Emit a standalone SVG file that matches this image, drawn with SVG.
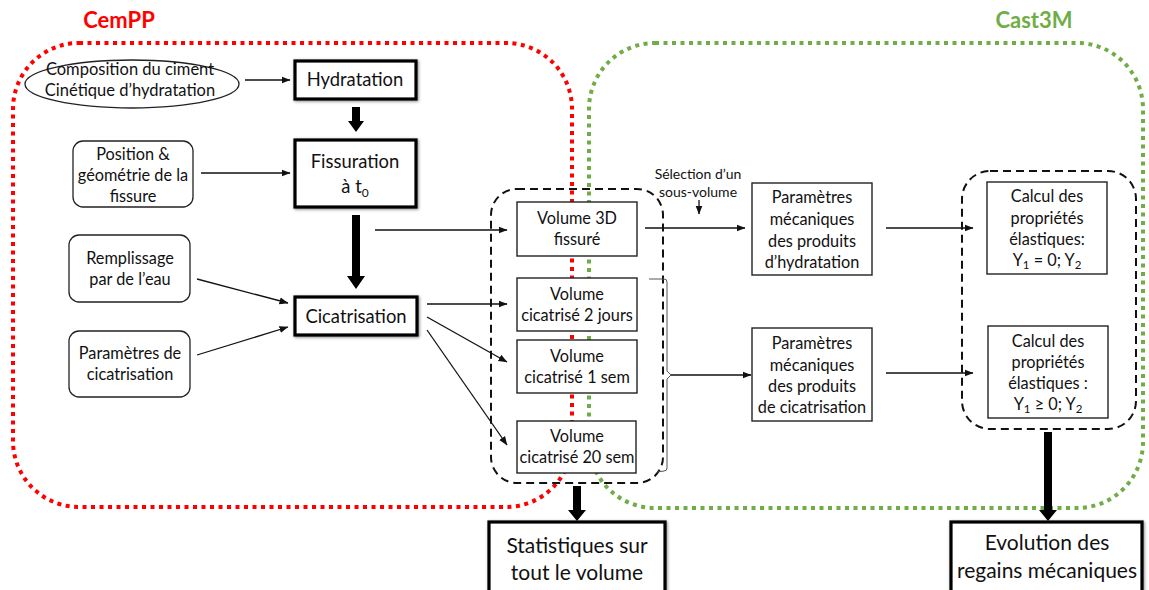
<svg xmlns="http://www.w3.org/2000/svg" width="1149" height="590" viewBox="0 0 1149 590">
<defs>
<style>
text{font-family:Lato,"Liberation Sans",sans-serif;fill:#111;text-anchor:middle}
.t15{font-size:16.3px}
.t16{font-size:16.5px}
.t17{font-size:18.4px}
.t20{font-size:21px}
.sm{font-size:14px}
.title{font-size:22px;font-weight:bold}
.box{fill:#fff;stroke:#222;stroke-width:1.4}
.rbox{fill:#fff;stroke:#222;stroke-width:1.3}
.thick{fill:#fff;stroke:#000;stroke-width:3.2;filter:url(#sh)}
.dash{fill:none;stroke:#111;stroke-width:2;stroke-dasharray:8 5}
.ln{fill:none;stroke:#111;stroke-width:1.3}
.big{fill:#000}
</style>
<filter id="sh" x="-20%" y="-20%" width="140%" height="140%">
<feDropShadow dx="1" dy="1" stdDeviation="1.5" flood-color="#000" flood-opacity="0.45"/>
</filter>
<marker id="ah" markerWidth="9" markerHeight="8" refX="8.5" refY="4" orient="auto" markerUnits="userSpaceOnUse">
<path d="M0,0.5 L9,4 L0,7.5 Z" fill="#111"/>
</marker>
</defs>
<rect width="1149" height="590" fill="#fff"/>

<g id="regions">
<rect x="13" y="43" width="559" height="464" rx="66" fill="none" stroke="#FF0000" stroke-width="4" stroke-dasharray="4 4.5"/>
<rect x="589" y="43" width="554" height="465" rx="66" fill="none" stroke="#70AD47" stroke-width="4" stroke-dasharray="4 4.5"/>
<text x="119" y="28" class="title" style="fill:#FF0000">CemPP</text>
<text x="1034" y="28" class="title" style="fill:#70AD47">Cast3M</text>
</g>

<g id="groups">
<rect x="491" y="189" width="172" height="294" rx="26" class="dash"/>
<rect x="962" y="171" width="174" height="258" rx="28" class="dash"/>
</g>

<g id="connectors">
<line x1="245" y1="80" x2="290" y2="80" class="ln" marker-end="url(#ah)"/>
<line x1="201" y1="173" x2="290" y2="173" class="ln" marker-end="url(#ah)"/>
<line x1="197" y1="279" x2="288" y2="303" class="ln" marker-end="url(#ah)"/>
<line x1="197" y1="355" x2="288" y2="327" class="ln" marker-end="url(#ah)"/>
<polygon class="big" points="352,107 360,107 360,121 364,121 356,132 348,121 352,121"/>
<polygon class="big" points="352,215 360,215 360,276 365,276 356,289 347,276 352,276"/>
<line x1="375" y1="230" x2="507" y2="230" class="ln" marker-end="url(#ah)"/>
<line x1="427" y1="304" x2="507" y2="304" class="ln" marker-end="url(#ah)"/>
<line x1="427" y1="317" x2="507" y2="362" class="ln" marker-end="url(#ah)"/>
<line x1="427" y1="330" x2="507" y2="445" class="ln" marker-end="url(#ah)"/>
<line x1="645" y1="228" x2="745" y2="228" class="ln" marker-end="url(#ah)"/>
<line x1="699" y1="200" x2="699" y2="214" class="ln" marker-end="url(#ah)"/>
<path d="M649,279 L664,279 Q667,279 667,282 L667,371 L671,375 L667,379 L667,468 Q667,471 664,471 L657,472" fill="none" stroke="#555" stroke-width="1"/>
<line x1="671" y1="375" x2="751" y2="375" class="ln" marker-end="url(#ah)"/>
<line x1="886" y1="228" x2="973" y2="228" class="ln" marker-end="url(#ah)"/>
<line x1="886" y1="373" x2="973" y2="373" class="ln" marker-end="url(#ah)"/>
<polygon class="big" points="573,486 581,486 581,510 586,510 577,521 568,510 573,510"/>
<polygon class="big" points="1044,432 1052,432 1052,510 1057,510 1048,521 1039,510 1044,510"/>
<text x="698" y="179" class="sm">Sélection d’un</text>
<text x="698" y="197" class="sm">sous-volume</text>
</g>

<g id="n-composition">
<ellipse cx="132" cy="84" rx="107" ry="24" fill="#fff" stroke="#222" stroke-width="1.3"/>
<text x="130" y="75" class="t16">Composition du ciment</text>
<text x="130" y="96" class="t16">Cinétique d’hydratation</text>
</g>
<g id="n-hydratation">
<rect x="295" y="61" width="121" height="38" class="thick"/>
<text x="355" y="86" class="t17">Hydratation</text>
</g>
<g id="n-position">
<rect x="73" y="141" width="120" height="66" rx="10" class="rbox"/>
<text x="133" y="160" class="t15">Position &amp;</text>
<text x="133" y="181" class="t15">géométrie de la</text>
<text x="133" y="202" class="t15">fissure</text>
</g>
<g id="n-fissuration">
<rect x="295" y="140" width="121" height="67" class="thick"/>
<text x="355" y="168" class="t17">Fissuration</text>
<text x="355" y="193" class="t17">à t<tspan dy="4" style="font-size:12px">0</tspan></text>
</g>
<g id="n-remplissage">
<rect x="69" y="235" width="121" height="67" rx="10" class="rbox"/>
<text x="130" y="264" class="t15">Remplissage</text>
<text x="130" y="285" class="t15">par de l’eau</text>
</g>
<g id="n-cicatrisation">
<rect x="295" y="297" width="122" height="38" class="thick"/>
<text x="356" y="323" class="t17">Cicatrisation</text>
</g>
<g id="n-parametres-cic">
<rect x="69" y="331" width="121" height="66" rx="10" class="rbox"/>
<text x="130" y="359" class="t15">Paramètres de</text>
<text x="130" y="380" class="t15">cicatrisation</text>
</g>
<g id="n-vol3d">
<rect x="517" y="202" width="120" height="54" class="box"/>
<text x="577" y="224" class="t15">Volume 3D</text>
<text x="577" y="245" class="t15">fissuré</text>
</g>
<g id="n-vol2j">
<rect x="517" y="278" width="120" height="53" class="box"/>
<text x="577" y="300" class="t15">Volume</text>
<text x="577" y="321" class="t15">cicatrisé 2 jours</text>
</g>
<g id="n-vol1s">
<rect x="517" y="340" width="120" height="53" class="box"/>
<text x="577" y="362" class="t15">Volume</text>
<text x="577" y="383" class="t15">cicatrisé 1 sem</text>
</g>
<g id="n-vol20s">
<rect x="517" y="421" width="119" height="52" class="box"/>
<text x="577" y="442" class="t15">Volume</text>
<text x="577" y="463" class="t15">cicatrisé 20 sem</text>
</g>
<g id="n-param-hyd">
<rect x="752" y="183" width="120" height="92" class="box"/>
<text x="812" y="203" class="t15">Paramètres</text>
<text x="812" y="225" class="t15">mécaniques</text>
<text x="812" y="247" class="t15">des produits</text>
<text x="812" y="268" class="t15">d’hydratation</text>
</g>
<g id="n-param-cic">
<rect x="752" y="328" width="120" height="93" class="box"/>
<text x="812" y="349" class="t15">Paramètres</text>
<text x="812" y="371" class="t15">mécaniques</text>
<text x="812" y="392" class="t15">des produits</text>
<text x="812" y="413" class="t15">de cicatrisation</text>
</g>
<g id="n-calcul1">
<rect x="987" y="182" width="120" height="92" class="box"/>
<text x="1047" y="202" class="t15">Calcul des</text>
<text x="1047" y="224" class="t15">propriétés</text>
<text x="1047" y="245" class="t15">élastiques:</text>
<text x="1047" y="266" class="t15">Y<tspan dy="3" style="font-size:11.5px">1</tspan><tspan dy="-3"> = 0; Y</tspan><tspan dy="3" style="font-size:11.5px">2</tspan></text>
</g>
<g id="n-calcul2">
<rect x="988" y="326" width="120" height="92" class="box"/>
<text x="1048" y="347" class="t15">Calcul des</text>
<text x="1048" y="368" class="t15">propriétés</text>
<text x="1048" y="389" class="t15">élastiques :</text>
<text x="1048" y="410" class="t15">Y<tspan dy="3" style="font-size:11.5px">1</tspan><tspan dy="-3"> ≥ 0; Y</tspan><tspan dy="3" style="font-size:11.5px">2</tspan></text>
</g>
<g id="n-statistiques">
<rect x="489" y="522" width="176" height="72" class="thick"/>
<text x="577" y="553" class="t20">Statistiques sur</text>
<text x="577" y="580" class="t20">tout le volume</text>
</g>
<g id="n-evolution">
<rect x="951" y="522" width="191" height="72" class="thick"/>
<text x="1047" y="550" class="t20">Evolution des</text>
<text x="1047" y="578" class="t20">regains mécaniques</text>
</g>
</svg>
